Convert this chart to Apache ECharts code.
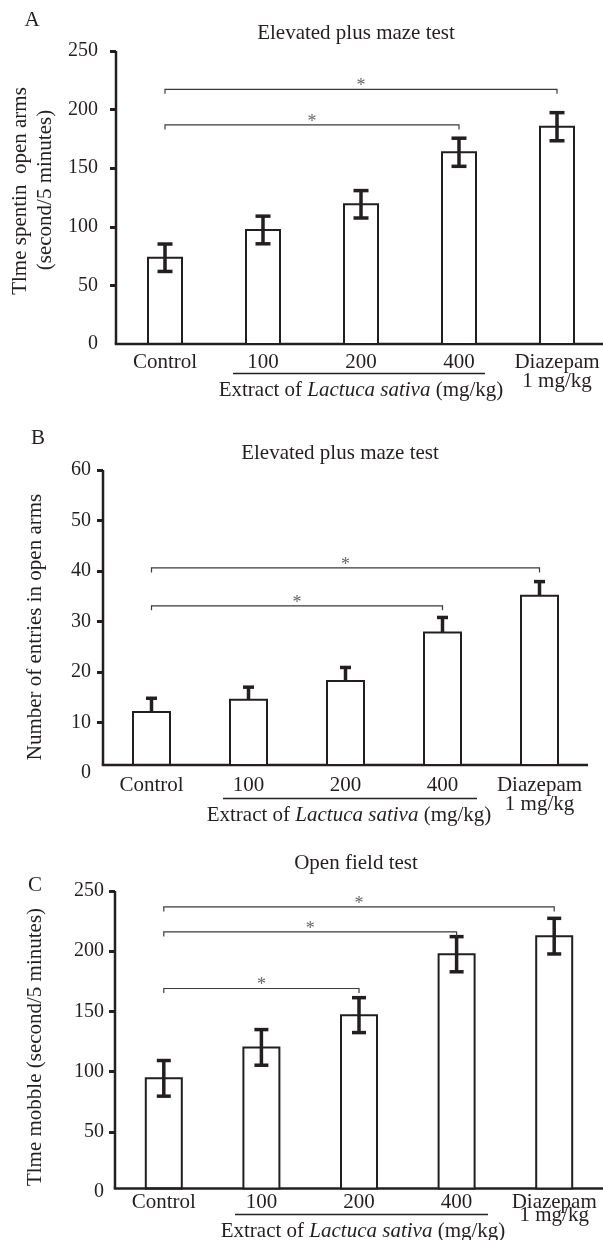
<!DOCTYPE html>
<html>
<head>
<meta charset="utf-8">
<script src="https://cdn.jsdelivr.net/npm/echarts@6/dist/echarts.min.js"></script>
<style>
html,body{margin:0;padding:0;background:#fff;}
#chart{width:603px;height:1240px;}
</style>
</head>
<body>
<div id="chart"></div>
<script>
// ---------------- data ----------------
const categories = ['Control', '100', '200', '400', 'Diazepam\n1 mg/kg'];

// A: Elevated plus maze test - time spent in open arms (s / 5 min)
const timeOpenArms = [73.6, 97.3, 119.2, 163.6, 185.4];
const timeOpenArmsErr = [11.7, 11.8, 11.7, 12.0, 12.0];
const sigA = [[0, 4, 217.3], [0, 3, 186.9]];
const yTicksA = [50, 100, 150, 200, 250];

// B: Elevated plus maze test - number of entries in open arms
const entriesOpenArms = [12.1, 14.5, 18.2, 27.8, 35.1];
const entriesOpenArmsErr = [2.7, 2.5, 2.7, 3.0, 2.8];
const sigB = [[0, 4, 40.6], [0, 3, 33.1]];
const yTicksB = [10, 20, 30, 40, 50, 60];

// C: Open field test - time mobile (s / 5 min)
const timeMobile = [94.4, 120.1, 146.9, 197.5, 212.5];
const timeMobileErr = [14.8, 14.8, 14.5, 14.6, 14.8];
const sigC = [[0, 4, 236.8], [0, 3, 216.0], [0, 2, 169.0]];
const yTicksC = [50, 100, 150, 200, 250];

// ---------------- styling / layout ----------------
const FONT = '"Liberation Serif", "Times New Roman", serif';
const INK = '#231f20';

const panels = [
  { values: timeOpenArms, errs: timeOpenArmsErr, sig: sigA, ticks: yTicksA, max: 250, interval: 50,
    grid: { left: 116, right: -3, top: 51, bottom: 896 }, base: 0, twoSided: true,
    barW: 34, capW: 15, labelMargin: 18, xMargin: 9, xLineHeight: 19 },
  { values: entriesOpenArms, errs: entriesOpenArmsErr, sig: sigB, ticks: yTicksB, max: 60, interval: 10,
    grid: { left: 103, right: 15, top: 470, bottom: 467 }, base: 1.6, twoSided: false,
    barW: 37, capW: 11, labelMargin: 12, xMargin: 2.5, xLineHeight: 19 },
  { values: timeMobile, errs: timeMobileErr, sig: sigC, ticks: yTicksC, max: 250, interval: 50,
    grid: { left: 115, right: 0, top: 891, bottom: 48 }, base: 3, twoSided: true,
    barW: 36, capW: 14, labelMargin: 11, xMargin: 4.2, xLineHeight: 13 }
];

function makeBarRender(cfg) {
  return function (params, api) {
    const i = api.value(0), v = api.value(1), e = api.value(2);
    const cs = params.coordSys;
    const top = api.coord([i, v]);
    const bot = api.coord([i, cfg.base]);
    const eTop = api.coord([i, v + e]);
    const eBot = api.coord([i, cfg.twoSided ? v - e : v]);
    const x = top[0], hw = cfg.barW / 2, cw = cfg.capW / 2;
    const children = [
      { type: 'rect', shape: { x: x - hw, y: top[1], width: cfg.barW, height: bot[1] - top[1] },
        style: { fill: '#fff', stroke: INK, lineWidth: 2 } },
      { type: 'line', shape: { x1: x, y1: eBot[1], x2: x, y2: eTop[1] }, style: { stroke: INK, lineWidth: 3.5 } },
      { type: 'line', shape: { x1: x - cw, y1: eTop[1], x2: x + cw, y2: eTop[1] }, style: { stroke: INK, lineWidth: 3.5 } }
    ];
    if (cfg.twoSided) {
      children.push({ type: 'line', shape: { x1: x - cw, y1: eBot[1], x2: x + cw, y2: eBot[1] }, style: { stroke: INK, lineWidth: 3.5 } });
    }
    if (params.dataIndex === 0) {
      children.push({ type: 'line', shape: { x1: cs.x - 1.25, y1: bot[1], x2: cs.x + cs.width, y2: bot[1] }, style: { stroke: INK, lineWidth: 2.5 } });
      children.push({ type: 'line', shape: { x1: cs.x, y1: bot[1], x2: cs.x, y2: cs.y }, style: { stroke: INK, lineWidth: 2.5 } });
    }
    return { type: 'group', children: children };
  };
}

function sigRender(params, api) {
  const p0 = api.coord([api.value(0), api.value(2)]);
  const p1 = api.coord([api.value(1), api.value(2)]);
  const drop = 4.5;
  return { type: 'group', children: [
    { type: 'polyline', shape: { points: [[p0[0], p0[1] + drop], [p0[0], p0[1]], [p1[0], p1[1]], [p1[0], p1[1] + drop]] },
      style: { stroke: '#3a3a3a', lineWidth: 1.2, fill: null } },
    { type: 'text', x: (p0[0] + p1[0]) / 2, y: p0[1] - 3,
      style: { text: '*', font: '18px ' + FONT, fill: '#666', align: 'center', verticalAlign: 'middle',
               textAlign: 'center', textVerticalAlign: 'middle' } }
  ] };
}

const grids = [], xAxes = [], yAxes = [], series = [];
panels.forEach(function (p, k) {
  grids.push(Object.assign({ containLabel: false, outerBoundsMode: 'none' }, p.grid));
  xAxes.push({
    type: 'category', gridIndex: k, data: categories,
    axisLine: { show: false }, axisTick: { show: false },
    axisLabel: { fontFamily: FONT, fontSize: 21, color: INK, margin: p.xMargin, lineHeight: p.xLineHeight, interval: 0 }
  });
  yAxes.push({
    type: 'value', gridIndex: k, min: 0, max: p.max, interval: p.interval,
    axisLine: { show: false },
    axisTick: { show: true, length: 6, inside: false, customValues: p.ticks, lineStyle: { color: INK, width: 3 } },
    axisLabel: { fontFamily: FONT, fontSize: 20, color: INK, margin: p.labelMargin },
    splitLine: { show: false }
  });
  series.push({
    type: 'custom', xAxisIndex: k, yAxisIndex: k, silent: true,
    renderItem: makeBarRender(p), encode: { x: 0, y: 1 },
    data: p.values.map(function (v, i) { return [i, v, p.errs[i]]; })
  });
  series.push({
    type: 'custom', xAxisIndex: k, yAxisIndex: k, silent: true,
    renderItem: sigRender, encode: { x: [0, 1], y: 2 },
    data: p.sig
  });
});

function txt(x, y, text, opts) {
  opts = opts || {};
  return {
    type: 'text', x: x, y: y, rotation: opts.rot || 0, silent: true,
    style: Object.assign({ text: text, font: (opts.size || 21) + 'px ' + FONT, fill: INK,
      align: 'center', verticalAlign: 'middle', textAlign: 'center', textVerticalAlign: 'middle' }, opts.style || {})
  };
}
function extractText(x, y) {
  return {
    type: 'text', x: x, y: y, silent: true,
    style: {
      text: '{n|Extract of }{i|Lactuca sativa}{n| (mg/kg)}',
      align: 'center', verticalAlign: 'middle', textAlign: 'center', textVerticalAlign: 'middle',
      rich: {
        n: { font: '21px ' + FONT, fill: INK },
        i: { font: 'italic 21px ' + FONT, fill: INK }
      }
    }
  };
}
function hline(x1, x2, y) {
  return { type: 'line', silent: true, shape: { x1: x1, y1: y, x2: x2, y2: y }, style: { stroke: INK, lineWidth: 1.5 } };
}

const graphics = [
  // Panel A
  txt(32, 20, 'A'),
  txt(356, 33, 'Elevated plus maze test'),
  txt(20, 191, 'Tlme spentin  open arms', { rot: Math.PI / 2 }),
  txt(45, 190, '(second/5 minutes)', { rot: Math.PI / 2 }),
  hline(233, 485, 373.5),
  extractText(361, 390),
  // Panel B
  txt(38, 438, 'B'),
  txt(340, 453, 'Elevated plus maze test'),
  txt(35, 627, 'Number of entries in open arms', { rot: Math.PI / 2 }),
  hline(223, 477, 798.5),
  extractText(349, 815),
  // Panel C
  txt(35, 885, 'C'),
  txt(356, 863, 'Open field test'),
  txt(35, 1047, 'Tlme mobble (second/5 minutes)', { rot: Math.PI / 2 }),
  hline(235, 488, 1214.5),
  extractText(363, 1231.5)
];

const chart = echarts.init(document.getElementById('chart'), null, { renderer: 'canvas' });
chart.setOption({
  animation: false,
  backgroundColor: '#fff',
  grid: grids,
  xAxis: xAxes,
  yAxis: yAxes,
  series: series,
  graphic: graphics
});
</script>
</body>
</html>
